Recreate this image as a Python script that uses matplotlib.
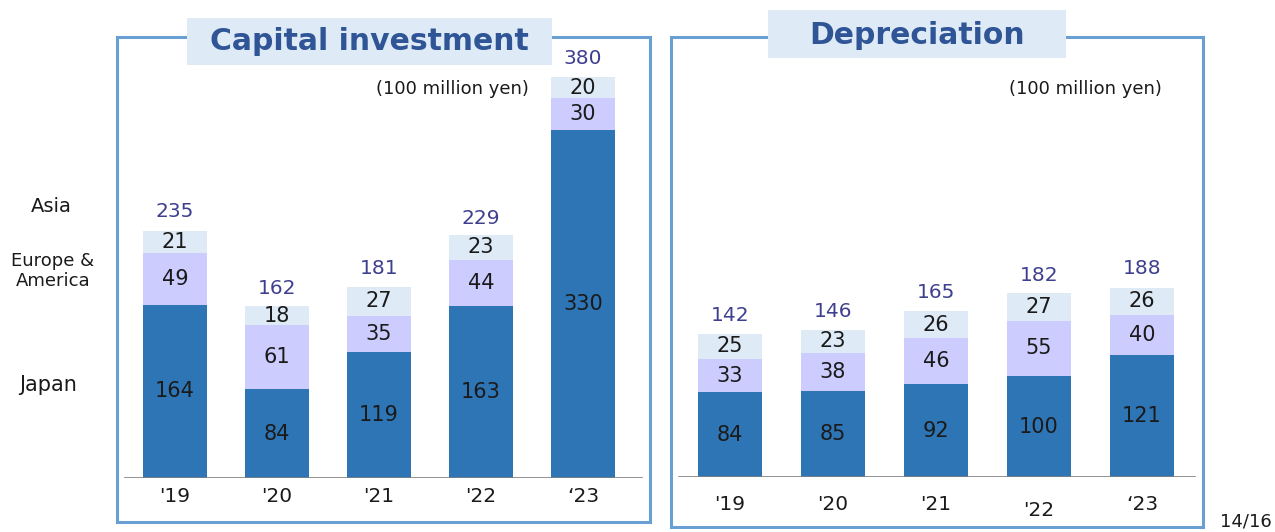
import matplotlib.pyplot as plt
from matplotlib.patches import Rectangle

years = ["'19", "'20", "'21", "'22", "\u201823"]

capex_japan = [164, 84, 119, 163, 330]
capex_europe = [49, 61, 35, 44, 30]
capex_asia = [21, 18, 27, 23, 20]
capex_total = [235, 162, 181, 229, 380]

dep_japan = [84, 85, 92, 100, 121]
dep_europe = [33, 38, 46, 55, 40]
dep_asia = [25, 23, 26, 27, 26]
dep_total = [142, 146, 165, 182, 188]

C_JAPAN = '#2E75B6'
C_EUROPE = '#CCCCFF'
C_ASIA = '#DEEBF7'
C_TOTAL = '#3F3F8F'
C_FRAME = '#6A9FD3'
C_TITLE = '#2F5597'

W, H = 1275, 532
fig = plt.figure(figsize=(W / 100, H / 100), dpi=100)
plt.rcParams['font.family'] = ['DejaVu Sans']

# overlay in pixel coordinates for frames and free text
ov = fig.add_axes([0, 0, 1, 1])
ov.set_xlim(0, W)
ov.set_ylim(H, 0)
ov.axis('off')


def px_axes(x0, x1, y_top, y_base):
    return fig.add_axes([x0 / W, 1 - y_base / H, (x1 - x0) / W, (y_base - y_top) / H])


def draw_panel(ax, japan, europe, asia, total, scale, xlim, tick_y, tick_offsets):
    x = list(range(len(years)))
    ax.bar(x, japan, width=0.63, color=C_JAPAN)
    ax.bar(x, europe, width=0.63, bottom=japan, color=C_EUROPE)
    bottoms = [j + e for j, e in zip(japan, europe)]
    ax.bar(x, asia, width=0.63, bottom=bottoms, color=C_ASIA)
    ax.set_xlim(*xlim)
    ax.set_ylim(0, scale)
    ax.axis('off')
    ax.axhline(0, color='#7F7F7F', lw=1.2, xmin=0.015, xmax=0.985)
    for i in x:
        ax.text(i, japan[i] / 2, str(japan[i]), ha='center', va='center', fontsize=15, color='#1A1A1A')
        ax.text(i, japan[i] + europe[i] / 2, str(europe[i]), ha='center', va='center', fontsize=15, color='#1A1A1A')
        ax.text(i, bottoms[i] + asia[i] / 2, str(asia[i]), ha='center', va='center', fontsize=15, color='#1A1A1A')
        ax.text(i, total[i] + scale * 0.02, str(total[i]), ha='center', va='bottom', fontsize=14.5, color=C_TOTAL)
        ax.text(i, -scale * (tick_y + tick_offsets[i]), years[i], ha='center', va='center',
                fontsize=14.5, color='#1A1A1A', clip_on=False)


# Capital investment panel
ax1 = px_axes(117, 650, 37, 478)
draw_panel(ax1, capex_japan, capex_europe, capex_asia, capex_total, 418,
           (-0.569, 4.657), 0.043, [0, 0, 0, 0, 0])

# Depreciation panel
ax2 = px_axes(671, 1203, 37, 477)
draw_panel(ax2, dep_japan, dep_europe, dep_asia, dep_total, 436,
           (-0.573, 4.592), 0.063, [0, 0, 0, 0.012, 0])

# frames and title boxes
ov.add_patch(Rectangle((117, 37), 533, 485, fill=False, ec=C_FRAME, lw=2.2))
ov.add_patch(Rectangle((671, 37), 532, 490, fill=False, ec=C_FRAME, lw=2.2))
ov.add_patch(Rectangle((187, 18), 365, 47, fc=C_ASIA, ec='none'))
ov.add_patch(Rectangle((768, 10), 298, 48, fc=C_ASIA, ec='none'))
ov.text(369, 42, 'Capital investment', ha='center', va='center', fontsize=21.5,
        fontweight='bold', color=C_TITLE)
ov.text(917, 35, 'Depreciation', ha='center', va='center', fontsize=21.5,
        fontweight='bold', color=C_TITLE)

ov.text(452, 89, '(100 million yen)', ha='center', va='center', fontsize=13, color='#1A1A1A')
ov.text(1085, 89, '(100 million yen)', ha='center', va='center', fontsize=13, color='#1A1A1A')

# legend-like labels on the left
ov.text(51, 207, 'Asia', ha='center', va='center', fontsize=14, color='#1A1A1A')
ov.text(53, 271, 'Europe &\nAmerica', ha='center', va='center', fontsize=13,
        color='#1A1A1A', linespacing=1.2)
ov.text(48, 385, 'Japan', ha='center', va='center', fontsize=15, color='#1A1A1A')

ov.text(1246, 522, '14/16', ha='center', va='center', fontsize=13, color='#1A1A1A')

fig.savefig('out.png', dpi=100)
